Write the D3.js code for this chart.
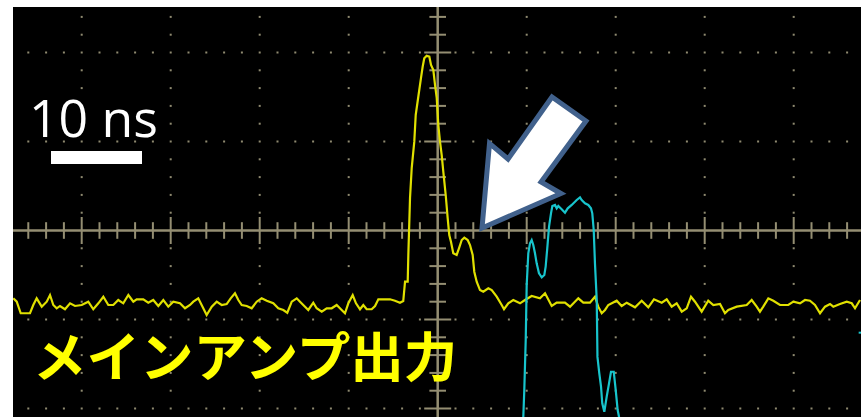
<!DOCTYPE html>
<html>
<head>
<meta charset="utf-8">
<script src="https://cdn.jsdelivr.net/npm/d3@7"></script>
<style>
  html, body { margin: 0; padding: 0; background: #ffffff; }
  svg { display: block; }
</style>
</head>
<body>
<svg id="scope" width="861" height="417"></svg>
<script>
// Oscilloscope capture: main amplifier output (CH1, yellow) and a second channel (CH2, cyan).
// Time in ns (10 ns / div), amplitude in screen divisions.

// CH1 (main amplifier output): [time ns, divisions]
const ch1Time = [
  -47.69,-47.30,-46.85,-45.81,-45.44,-45.06,-44.49,-43.93,-43.56,-43.19,-42.81,-42.44,-41.88,-41.31,-40.75,-40.00,
  -39.26,-38.70,-38.13,-37.57,-37.01,-36.45,-35.89,-35.33,-34.76,-34.20,-33.82,-33.08,-32.52,-31.96,-31.39,-30.83,
  -30.27,-29.71,-28.96,-28.39,-27.83,-27.46,-26.90,-26.34,-25.96,-25.39,-24.83,-24.27,-23.71,-23.26,-22.78,-22.40,
  -22.02,-21.46,-20.90,-20.34,-19.78,-19.21,-18.47,-17.91,-17.35,-16.90,-16.40,-15.84,-15.47,-14.91,-14.54,-13.98,
  -13.60,-13.03,-12.47,-11.91,-11.35,-10.79,-10.42,-10.04,-9.55,-9.18,-8.73,-8.36,-7.98,-7.42,-7.04,-6.67,
  -6.11,-5.36,-4.80,-4.24,-3.87,-3.67,-3.37,-3.30,-3.11,-2.92,-2.63,-2.47,-2.18,-1.88,-1.69,-1.51,
  -1.24,-0.94,-0.75,-0.49,-0.30,-0.11,0.07,0.26,0.45,0.63,0.90,1.12,1.30,1.49,1.75,2.13,
  2.39,2.70,2.99,3.37,3.63,3.93,4.11,4.38,4.75,5.12,5.69,6.07,6.63,7.19,7.45,7.93,
  8.49,9.25,9.81,10.56,11.49,12.06,12.81,13.37,14.30,14.87,15.80,16.36,17.11,17.67,18.04,18.43,
  18.80,19.17,20.11,20.67,21.24,22.17,22.92,23.66,24.30,25.17,25.73,26.29,26.85,27.42,27.98,28.46,
  28.91,29.66,30.40,30.97,31.72,32.28,32.65,33.60,34.72,35.28,35.84,36.21,36.58,37.15,37.71,38.46,
  39.39,39.96,40.71,41.27,41.83,42.39,42.96,43.52,44.08,44.45,45.20,45.96,46.52,46.89,47.45
];
const ch1Level = [
  -0.762,-0.800,-0.930,-0.930,-0.837,-0.762,-0.856,-0.800,-0.725,-0.837,-0.874,-0.848,-0.885,-0.818,-0.848,-0.837,
  -0.800,-0.885,-0.818,-0.744,-0.837,-0.837,-0.781,-0.818,-0.725,-0.800,-0.773,-0.773,-0.811,-0.781,-0.848,-0.781,
  -0.856,-0.800,-0.818,-0.874,-0.837,-0.800,-0.762,-0.874,-0.949,-0.856,-0.800,-0.837,-0.826,-0.762,-0.706,-0.781,
  -0.837,-0.848,-0.874,-0.800,-0.762,-0.789,-0.818,-0.874,-0.893,-0.924,-0.800,-0.762,-0.800,-0.856,-0.893,-0.811,
  -0.874,-0.912,-0.874,-0.874,-0.837,-0.893,-0.930,-0.818,-0.725,-0.818,-0.885,-0.837,-0.885,-0.885,-0.848,-0.773,
  -0.773,-0.773,-0.789,-0.811,-0.792,-0.575,-0.575,-0.275,0.365,0.702,0.998,1.298,1.503,1.713,1.840,1.935,
  1.964,1.953,1.860,1.803,1.635,1.489,1.185,0.998,0.848,0.661,0.399,0.140,-0.051,-0.126,-0.256,-0.275,
  -0.200,-0.107,-0.081,-0.107,-0.163,-0.275,-0.463,-0.575,-0.669,-0.688,-0.649,-0.669,-0.744,-0.837,-0.885,-0.818,
  -0.781,-0.818,-0.781,-0.736,-0.762,-0.706,-0.848,-0.811,-0.811,-0.856,-0.762,-0.811,-0.811,-0.744,-0.856,-0.930,
  -0.893,-0.837,-0.789,-0.848,-0.811,-0.863,-0.789,-0.863,-0.773,-0.811,-0.773,-0.856,-0.818,-0.912,-0.874,-0.744,
  -0.800,-0.912,-0.789,-0.837,-0.826,-0.930,-0.893,-0.856,-0.837,-0.781,-0.856,-0.912,-0.856,-0.762,-0.789,-0.837,
  -0.837,-0.800,-0.818,-0.781,-0.789,-0.837,-0.930,-0.856,-0.826,-0.856,-0.826,-0.800,-0.818,-0.874,-0.781
];

// CH2: [time ns, divisions]
const ch2Time = [
  9.58,9.62,9.73,9.89,10.00,10.18,10.37,10.56,10.74,10.93,11.12,11.38,11.69,11.98,12.13,12.31,
  12.51,12.73,12.88,13.18,13.37,13.55,13.93,14.30,14.61,15.06,15.62,15.99,16.18,16.55,16.92,17.22,
  17.37,17.53,17.67,17.87,17.95,18.15,18.35,18.49,18.72,18.99,19.25,19.47,19.78,20.00,20.22,20.37,20.48
];
const ch2Level = [
  -2.190,-2.092,-1.792,-1.230,-0.612,-0.256,-0.144,-0.107,-0.163,-0.256,-0.369,-0.481,-0.526,-0.500,-0.407,-0.200,
  0.043,0.193,0.275,0.287,0.249,0.275,0.238,0.200,0.249,0.287,0.343,0.373,0.343,0.306,0.287,0.249,
  0.193,0.006,-0.369,-0.781,-1.420,-1.600,-1.755,-1.942,-2.036,-1.867,-1.717,-1.587,-1.587,-1.792,-2.017,-2.092,-2.240
];
// CH2 fragment visible at the right edge of the screen
const ch2EdgeTime = [47.30, 47.70];
const ch2EdgeLevel = [-1.148, -1.148];

// Graticule: major divisions and minor subdivisions
const majorTimes = [-40, -30, -20, -10, 10, 20, 30, 40];
const majorLevels = [-2, -1, 1, 2];
const minorTimeStep = 2;     // ns
const minorLevelStep = 0.2;  // div

// Annotation arrow, in [time ns, divisions]
const arrowTime  = [4.98, 5.82, 7.90, 12.84, 16.66, 11.61, 13.85];
const arrowLevel = [0.028, 0.978, 0.803, 1.500, 1.230, 0.545, 0.416];

const scaleLabel = "10 ns";
const channelLabel = "メインアンプ出力";

const W = 861, H = 417;
const screen = { left: 13, top: 7, right: 861, bottom: 417 };
const cx = 437.7, cy = 230.5, div = 89;

const x = d3.scaleLinear().domain([-50, 50]).range([cx - 5 * div, cx + 5 * div]);
const y = d3.scaleLinear().domain([-3, 3]).range([cy + 3 * div, cy - 3 * div]);

const svg = d3.select("#scope");

svg.append("defs").append("clipPath").attr("id", "screenClip")
  .append("rect")
  .attr("x", screen.left).attr("y", screen.top)
  .attr("width", screen.right - screen.left).attr("height", screen.bottom - screen.top);

svg.append("rect")
  .attr("x", screen.left).attr("y", screen.top)
  .attr("width", screen.right - screen.left).attr("height", screen.bottom - screen.top)
  .attr("fill", "#000000");

const g = svg.append("g").attr("clip-path", "url(#screenClip)");

// Dotted graticule
const gridColor = "#8f8a70";
const dots = [];
const levelSteps = d3.range(-15, 16).map(i => i * minorLevelStep);
const timeSteps = d3.range(-25, 26).map(i => i * minorTimeStep);
majorTimes.forEach(t => levelSteps.forEach(v => { if (Math.abs(v) > 1e-9) dots.push([t, v]); }));
majorLevels.forEach(v => timeSteps.forEach(t => { if (t !== 0 && !majorTimes.includes(t)) dots.push([t, v]); }));
g.append("g").selectAll("rect").data(dots).join("rect")
  .attr("x", d => x(d[0]) - 1).attr("y", d => y(d[1]) - 1)
  .attr("width", 2).attr("height", 2)
  .attr("fill", gridColor);

// Centre axes with tick marks
const axisColor = "#948e72";
const axes = g.append("g").attr("stroke", axisColor);
axes.append("line")
  .attr("x1", screen.left).attr("x2", screen.right)
  .attr("y1", y(0)).attr("y2", y(0)).attr("stroke-width", 2.5);
axes.append("line")
  .attr("x1", x(0)).attr("x2", x(0))
  .attr("y1", screen.top).attr("y2", screen.bottom).attr("stroke-width", 2.5);
const isMajorT = t => Math.abs(t % 10) < 1e-9;
const isMajorV = v => Math.abs(v - Math.round(v)) < 1e-9;
axes.selectAll("line.tt").data(timeSteps.filter(t => t !== 0)).join("line")
  .attr("class", "tt")
  .attr("x1", d => x(d)).attr("x2", d => x(d))
  .attr("y1", d => y(0) - (isMajorT(d) ? 13.5 : 8.3))
  .attr("y2", d => y(0) + (isMajorT(d) ? 13.5 : 8.3))
  .attr("stroke-width", 2);
axes.selectAll("line.tv").data(levelSteps.filter(v => Math.abs(v) > 1e-9)).join("line")
  .attr("class", "tv")
  .attr("y1", d => y(d)).attr("y2", d => y(d))
  .attr("x1", d => x(0) - (isMajorV(d) ? 13.5 : 8.3))
  .attr("x2", d => x(0) + (isMajorV(d) ? 13.5 : 8.3))
  .attr("stroke-width", 2);

// Traces
const line = d3.line().x(d => x(d[0])).y(d => y(d[1]));
const ch1 = ch1Time.map((t, i) => [t, ch1Level[i]]);
const ch2 = ch2Time.map((t, i) => [t, ch2Level[i]]);
const ch2Edge = ch2EdgeTime.map((t, i) => [t, ch2EdgeLevel[i]]);

g.append("path").datum(ch1).attr("d", line)
  .attr("fill", "none").attr("stroke", "#e0e000").attr("stroke-width", 2.2)
  .attr("stroke-linejoin", "miter");
g.append("path").datum(ch2).attr("d", line)
  .attr("fill", "none").attr("stroke", "#18c4cc").attr("stroke-width", 2.2)
  .attr("stroke-linejoin", "miter");
g.append("path").datum(ch2Edge).attr("d", line)
  .attr("fill", "none").attr("stroke", "#18c4cc").attr("stroke-width", 2);

// Scale bar and its label
svg.append("text")
  .attr("x", 29).attr("y", 137)
  .attr("font-family", "'Open Sans', 'Noto Sans', sans-serif")
  .attr("font-weight", 400)
  .attr("font-size", 52)
  .attr("textLength", 129)
  .attr("lengthAdjust", "spacingAndGlyphs")
  .attr("fill", "#ffffff")
  .text(scaleLabel);
svg.append("rect")
  .attr("x", 51).attr("y", 151).attr("width", 91).attr("height", 13)
  .attr("fill", "#ffffff");

// Channel label
svg.append("text")
  .attr("x", 33).attr("y", 377)
  .attr("font-family", "'Noto Sans CJK JP', sans-serif")
  .attr("font-weight", 700)
  .attr("font-size", 53.5)
  .attr("fill", "#ffff00")
  .text(channelLabel);

// Arrow pointing at the ringing after the main pulse
const arrowPts = arrowTime.map((t, i) => [x(t), y(arrowLevel[i])]);
svg.append("polygon")
  .attr("points", arrowPts.map(p => p.join(",")).join(" "))
  .attr("fill", "#ffffff")
  .attr("stroke", "#41618c")
  .attr("stroke-width", 5)
  .attr("stroke-linejoin", "miter")
  .attr("stroke-miterlimit", 10);
</script>
</body>
</html>
